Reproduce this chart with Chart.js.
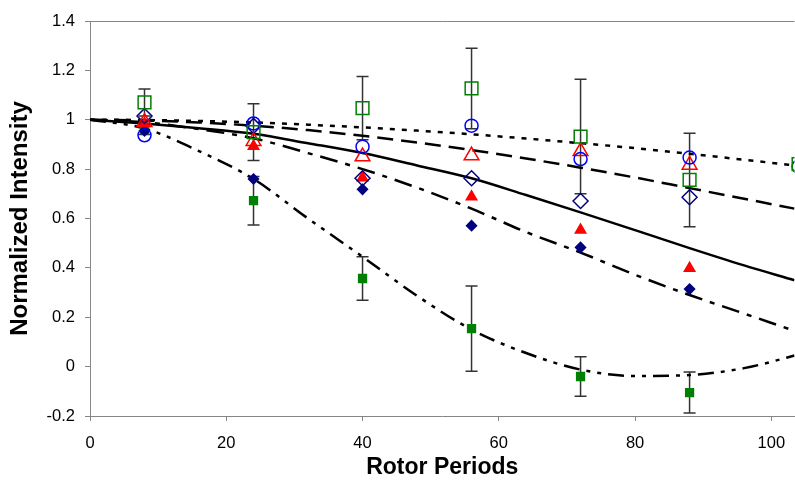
<!DOCTYPE html>
<html>
<head>
<meta charset="utf-8">
<script src="https://cdn.jsdelivr.net/npm/chart.js@4.4.1/dist/chart.umd.min.js"></script>
<style>
  html, body { margin: 0; padding: 0; background: #fff; overflow: hidden; }
</style>
</head>
<body>
<canvas id="decayChart" width="805" height="482"></canvas>
<script>
// measured points (rotor periods)
const periods = [8, 24, 40, 56, 72, 88, 104];

const openSquare   = [1.07, 0.95, 1.047, 1.127, 0.932, 0.756, 0.82];
const openSquareErr = [0.055, 0.115, 0.128, 0.163, 0.232, 0.189, null];
const openCircle   = [0.937, 0.985, 0.891, 0.976, 0.841, 0.847, 0.81];
const openTriangle = [0.99, 0.913, 0.851, 0.855, 0.872, 0.817, null];
const openDiamond  = [1.015, 0.975, 0.763, 0.763, 0.671, 0.686, null];
const filledTriangle = [0.985, 0.893, 0.765, 0.688, 0.553, 0.398, null];
const filledDiamond  = [0.955, 0.760, 0.718, 0.571, 0.483, 0.314, null];
const filledSquare   = [0.96, 0.672, 0.357, 0.154, -0.04, -0.105, null];
const filledSquareErr = [0.02, 0.098, 0.088, 0.173, 0.08, 0.083, null];

// fitted curves
const fitX = [0, 8, 16, 24, 32, 40, 48, 56, 64, 72, 80, 88, 96, 103.4, 105];
const fitDotted   = [1.0, 0.999, 0.995, 0.989, 0.98, 0.969, 0.956, 0.941, 0.924, 0.905, 0.885, 0.862, 0.838, 0.815, 0.81];
const fitLongDash = [1.0, 0.997, 0.989, 0.976, 0.958, 0.935, 0.908, 0.877, 0.843, 0.806, 0.766, 0.723, 0.68, 0.64, 0.632];
const fitSolid    = [1.0, 0.985, 0.966, 0.943, 0.905, 0.865, 0.815, 0.763, 0.695, 0.625, 0.553, 0.48, 0.41, 0.35, 0.337];
const fitDashDot  = [1.0, 0.99, 0.962, 0.925, 0.865, 0.80, 0.725, 0.64, 0.545, 0.462, 0.372, 0.29, 0.215, 0.145, 0.13];
const fitDashDotDot = [1.0, 0.965, 0.873, 0.76, 0.6, 0.445, 0.287, 0.15, 0.055, -0.012, -0.038, -0.034, -0.006, 0.045, 0.058];

const FONT = "'Liberation Sans', Arial, sans-serif";
const AXIS_GREY = '#868686';

function pts(xs, ys) {
    return xs.map((x, i) => ({ x: x, y: ys[i] })).filter(p => p.y !== null);
}

function marker(label, values, style, color, radius, filled) {
    return {
        type: 'scatter',
        label: label,
        data: pts(periods, values),
        pointStyle: style,
        pointRadius: radius,
        pointHoverRadius: radius,
        pointBorderColor: color,
        pointBackgroundColor: filled ? color : 'rgba(0,0,0,0)',
        pointBorderWidth: 1.5,
        showLine: false
    };
}

function fitLine(label, values, dash) {
    return {
        type: 'line',
        label: label,
        data: pts(fitX, values),
        borderColor: '#000',
        borderWidth: 2.5,
        borderDash: dash,
        pointRadius: 0,
        fill: false,
        cubicInterpolationMode: 'monotone'
    };
}

const errorBars = {
    id: 'errorBars',
    beforeDatasetsDraw(chart) {
        const ctx = chart.ctx;
        const xs = chart.scales.x, ys = chart.scales.y;
        const area = chart.chartArea;
        ctx.save();
        ctx.beginPath();
        ctx.rect(area.left, area.top - 2, area.right - area.left, area.bottom - area.top + 4);
        ctx.clip();
        ctx.strokeStyle = '#333';
        ctx.lineWidth = 1.5;
        [[openSquare, openSquareErr], [filledSquare, filledSquareErr]].forEach(([vals, errs]) => {
            vals.forEach((v, i) => {
                if (v === null || errs[i] === null) return;
                const px = xs.getPixelForValue(periods[i]);
                const top = ys.getPixelForValue(v + errs[i]);
                const bot = ys.getPixelForValue(v - errs[i]);
                ctx.beginPath();
                ctx.moveTo(px, top); ctx.lineTo(px, bot);
                ctx.moveTo(px - 6, top); ctx.lineTo(px + 6, top);
                ctx.moveTo(px - 6, bot); ctx.lineTo(px + 6, bot);
                ctx.stroke();
            });
        });
        ctx.restore();
    }
};

// thin frame line along the top of the plot
const topBorder = {
    id: 'topBorder',
    afterDraw(chart) {
        const a = chart.chartArea, ctx = chart.ctx;
        ctx.save();
        ctx.strokeStyle = AXIS_GREY;
        ctx.lineWidth = 1;
        ctx.beginPath();
        ctx.moveTo(a.left, a.top + 0.5);
        ctx.lineTo(a.right, a.top + 0.5);
        ctx.stroke();
        ctx.restore();
    }
};

const ctx = document.getElementById('decayChart').getContext('2d');
new Chart(ctx, {
    data: {
        datasets: [
            marker('open square', openSquare, 'rect', '#008000', 9, false),
            marker('open circle', openCircle, 'circle', '#0000ff', 6.5, false),
            marker('open triangle', openTriangle, 'triangle', '#ff0000', 8.5, false),
            marker('open diamond', openDiamond, 'rectRot', '#000080', 7.5, false),
            marker('filled triangle', filledTriangle, 'triangle', '#ff0000', 6, true),
            marker('filled diamond', filledDiamond, 'rectRot', '#000080', 5, true),
            marker('filled square', filledSquare, 'rect', '#008000', 5.5, true),
            fitLine('dotted fit', fitDotted, [5, 7]),
            fitLine('long dash fit', fitLongDash, [16, 8]),
            fitLine('solid fit', fitSolid, []),
            fitLine('dash dot fit', fitDashDot, [18, 8, 5, 8]),
            fitLine('dash dot dot fit', fitDashDotDot, [16, 7, 4, 7, 4, 7])
        ]
    },
    options: {
        responsive: false,
        animation: false,
        layout: { padding: { top: 21, right: 0, left: 0, bottom: 0 } },
        plugins: {
            legend: { display: false },
            tooltip: { enabled: false }
        },
        scales: {
            x: {
                type: 'linear',
                min: 0,
                max: 103.4,
                afterFit: s => { s.height = 66; },
                border: { color: AXIS_GREY, width: 1 },
                grid: { drawOnChartArea: false, drawTicks: true, tickLength: 5, color: AXIS_GREY },
                ticks: {
                    stepSize: 20,
                    includeBounds: false,
                    color: '#000',
                    padding: 13,
                    maxRotation: 0,
                    font: { family: FONT, size: 16.5 }
                },
                title: {
                    display: true,
                    text: 'Rotor Periods',
                    color: '#000',
                    padding: { top: 0, bottom: 1 },
                    font: { family: FONT, size: 23, weight: 'bold' }
                }
            },
            y: {
                type: 'linear',
                min: -0.2,
                max: 1.4,
                afterFit: s => { s.width = 90; },
                border: { color: AXIS_GREY, width: 1 },
                grid: { drawOnChartArea: false, drawTicks: true, tickLength: 5, color: AXIS_GREY },
                ticks: {
                    stepSize: 0.2,
                    color: '#000',
                    padding: 10,
                    font: { family: FONT, size: 16.5 },
                    callback: v => String(Number(v.toFixed(1)))
                },
                title: {
                    display: true,
                    text: 'Normalized Intensity',
                    color: '#000',
                    padding: { top: 6, bottom: 0 },
                    font: { family: FONT, size: 24, weight: 'bold' }
                }
            }
        }
    },
    plugins: [errorBars, topBorder]
});
</script>
</body>
</html>
